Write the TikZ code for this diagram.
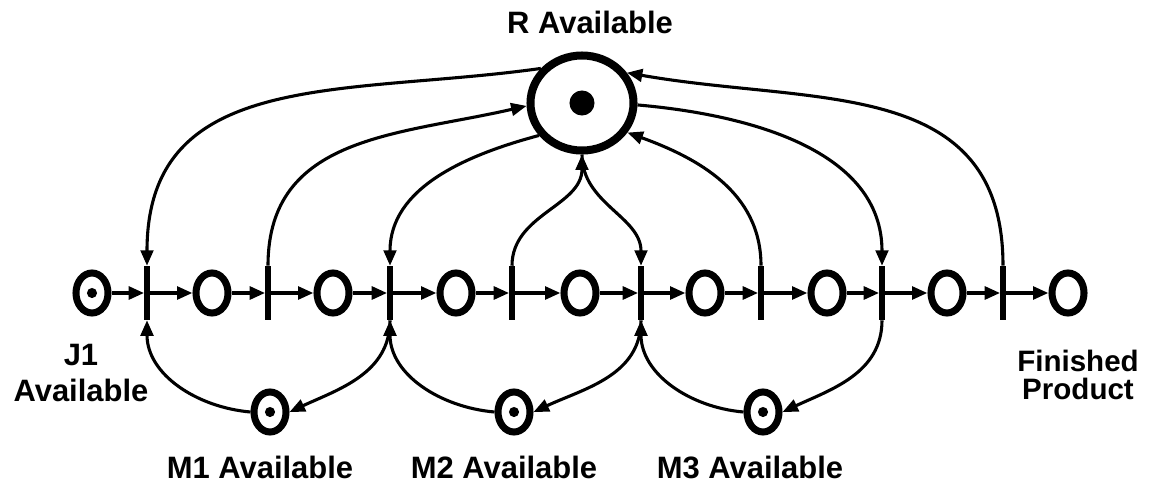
\documentclass[tikz,border=0pt]{standalone}
\usepackage{fontspec}
\setmainfont{Liberation Sans}
\usetikzlibrary{shapes.geometric,arrows.meta}

\tikzset{
  >={Triangle[length=11pt,width=9pt]},
  place/.style={ellipse, draw, line width=5pt, minimum width=0.8cm, minimum height=1cm, inner sep=0pt},
  marked/.style={place, path picture={\fill (path picture bounding box.center) circle (3.6pt);}},
  bar/.style={rectangle, fill, minimum width=3.6pt, minimum height=1.35cm, inner sep=0pt},
  flow/.style={->, line width=2.6pt},
  link/.style={->, line width=2.2pt},
  lbl/.style={font=\fontsize{22}{25.5}\selectfont\bfseries, align=center}
}

\begin{document}
\begin{tikzpicture}[x=0.025cm, y=-0.025cm]
\useasboundingbox (0,0) rectangle (1152,495);

% Resource place
\node[place, line width=5.7pt, minimum width=2.575cm, minimum height=2.375cm,
  path picture={\fill (path picture bounding box.center) circle (8.9pt);}] (r) at (582,103) {};

% Job route: places and transitions
\node[marked] (j1) at (92,293) {};
\node[place] (p1) at (212,293) {};
\node[place] (p2) at (333,293) {};
\node[place] (p3) at (456,293) {};
\node[place] (p4) at (580,293) {};
\node[place] (p5) at (705,293) {};
\node[place] (p6) at (827,293) {};
\node[place] (p7) at (947,293) {};
\node[place] (fin) at (1068,293) {};

\node[bar] (t1) at (147,293) {};
\node[bar] (t2) at (268,293) {};
\node[bar] (t3) at (390,293) {};
\node[bar] (t4) at (512,293) {};
\node[bar] (t5) at (641,293) {};
\node[bar] (t6) at (761,293) {};
\node[bar] (t7) at (882,293) {};
\node[bar] (t8) at (1003,293) {};

% Machines
\node[marked] (m1) at (270,412) {};
\node[marked] (m2) at (514,412) {};
\node[marked] (m3) at (763,412) {};

\foreach \a/\b in {j1/t1,t1/p1,p1/t2,t2/p2,p2/t3,t3/p3,p3/t4,t4/p4,p4/t5,t5/p5,p5/t6,t6/p6,p6/t7,t7/p7,p7/t8,t8/fin}
  \draw[flow] (\a) -- (\b);

% Resource arcs
\draw[link] (r.140) to[out=188, in=90, looseness=1.15] (t1.north);
\draw[link] (t2.north) to[out=90, in=193, looseness=1.1] (r.183);
\draw[link] (r.217) to[out=195, in=90] (t3.north);
\draw[link] (t4.north) to[out=90, in=270] (r.270);
\draw[link] (r.270) to[out=270, in=90] (t5.north);
\draw[link] (t6.north) to[out=90, in=340] (r.327);
\draw[link] (r.358) to[out=355, in=90] (t7.north);
\draw[link] (t8.north) to[out=90, in=350, looseness=1.15] (r.34);

% Machine arcs
\draw[link] (m1.west) to[out=175, in=270] (t1.south);
\draw[link] (t3.south) to[out=270, in=25] (m1.east);
\draw[link] (m2.west) to[out=175, in=270] (t3.south);
\draw[link] (t5.south) to[out=270, in=25] (m2.east);
\draw[link] (m3.west) to[out=175, in=270] (t5.south);
\draw[link] (t7.south) to[out=270, in=25] (m3.east);

% Labels
\node[lbl] (rlab) at (590,22) {R Available};
\node[lbl] (j1lab) at (81,373) {J1\\Available};
\node[lbl, font=\fontsize{21}{19.5}\selectfont\bfseries] (finlab) at (1078,375) {Finished\\Product};
\node[lbl] (m1lab) at (260,467) {M1 Available};
\node[lbl] (m2lab) at (504,467) {M2 Available};
\node[lbl] (m3lab) at (750,467) {M3 Available};
\end{tikzpicture}
\end{document}
